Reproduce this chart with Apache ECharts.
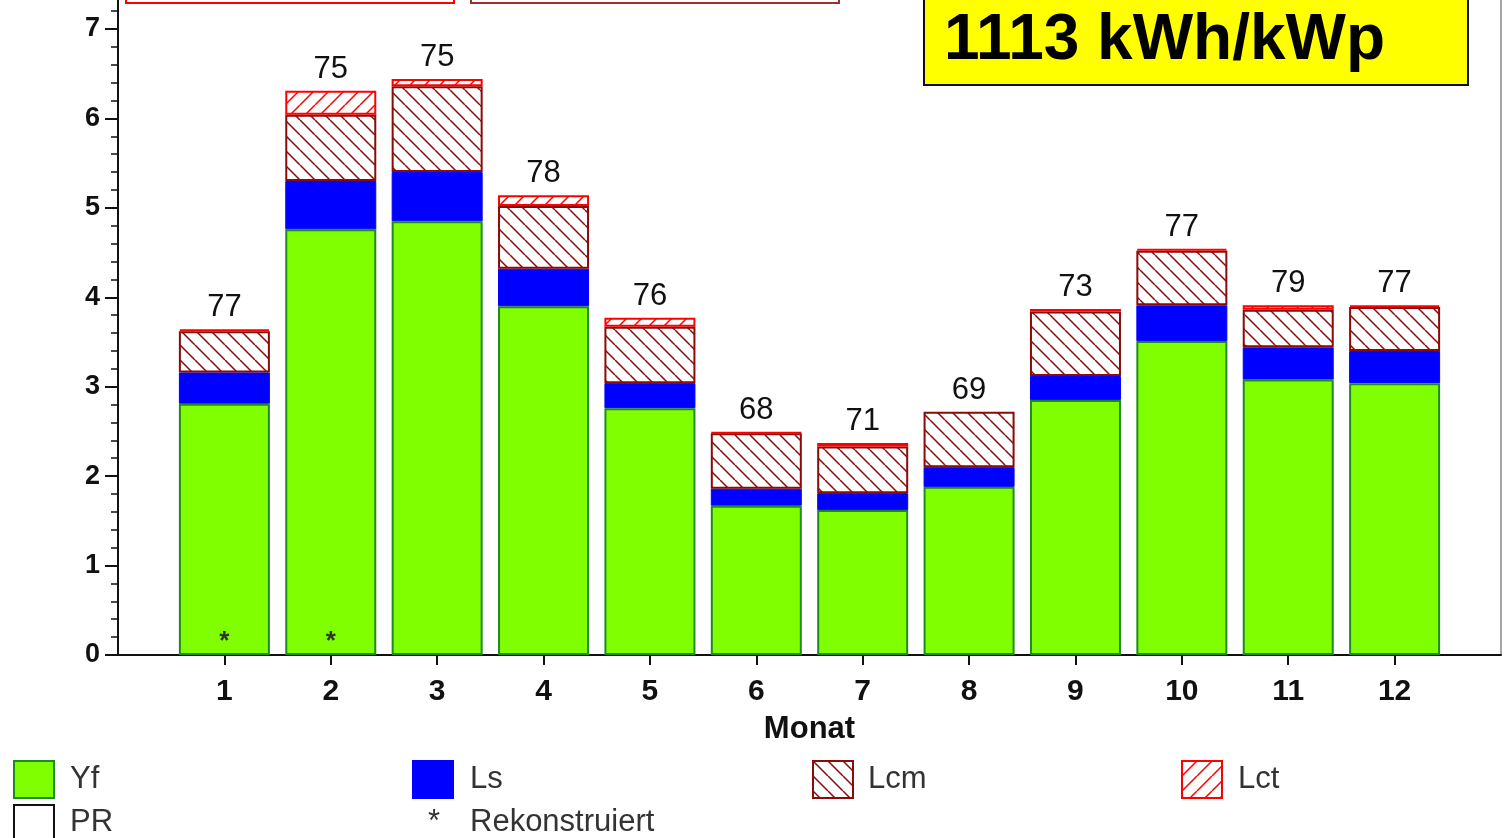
<!DOCTYPE html>
<html>
<head>
<meta charset="utf-8">
<script src="https://cdn.jsdelivr.net/npm/echarts@6/dist/echarts.min.js"></script>
<style>
  html, body { margin: 0; padding: 0; background: #fff; }
  #chart { width: 1504px; height: 838px; }
</style>
</head>
<body>
<div id="chart"></div>
<script>
// Monat 1..12
const months = ['1', '2', '3', '4', '5', '6', '7', '8', '9', '10', '11', '12']
const yf = [2.81, 4.76, 4.85, 3.90, 2.76, 1.67, 1.62, 1.88, 2.85, 3.51, 3.08, 3.04]
const ls = [0.35, 0.54, 0.55, 0.42, 0.28, 0.19, 0.19, 0.22, 0.27, 0.40, 0.36, 0.36]
const lcm = [0.46, 0.74, 0.96, 0.70, 0.63, 0.62, 0.52, 0.62, 0.72, 0.61, 0.42, 0.49]
const lct = [0.02, 0.27, 0.08, 0.12, 0.10, 0.01, 0.04, 0, 0.03, 0.02, 0.05, 0.02]
const pr = [77, 75, 75, 78, 76, 68, 71, 69, 73, 77, 79, 77]
const rekonstruiert = [1, 1, 0, 0, 0, 0, 0, 0, 0, 0, 0, 0]
const yTicks = [0, 1, 2, 3, 4, 5, 6, 7]

const FONT = '"Liberation Sans", Arial, sans-serif'
const GREEN = '#80ff00'
const BLUE = '#0000ff'
const DARKRED = '#8b0a0a'
const RED = '#ff0000'
const YMAX = 7.324

// the x axis runs from 0 to 13, one empty slot on each side of the months
const xCats = [''].concat(months, [''])

const yMinor = []
yTicks.forEach(m => {
  for (let k = 1; k <= 4; k++) {
    if (m + k * 0.2 < YMAX) yMinor.push(+(m + k * 0.2).toFixed(1))
  }
})

function hatch(color, back) {
  const s = 15
  const c = document.createElement('canvas')
  c.width = s
  c.height = s
  const ctx = c.getContext('2d')
  ctx.fillStyle = '#fff'
  ctx.fillRect(0, 0, s, s)
  ctx.strokeStyle = color
  ctx.lineWidth = 1.5
  ctx.beginPath()
  for (let k = -s; k <= 2 * s; k += s) {
    ctx.moveTo(0, k)
    ctx.lineTo(s, back ? k + s : k - s)
  }
  ctx.stroke()
  return { image: c, repeat: 'repeat' }
}

const lcmFill = hatch(DARKRED, true)
const lctFill = hatch(RED, false)

function padded(vals) {
  const items = vals.map(v => (v === 0 ? { value: 0, itemStyle: { borderWidth: 0 } } : v))
  return ['-'].concat(items, ['-'])
}

const chart = echarts.init(document.getElementById('chart'))

const legendRow1 = 778
const legendRow2 = 821
function swatch(x, y, fill, stroke) {
  return {
    type: 'rect', left: x, top: y - 18,
    shape: { width: 40, height: 37 },
    style: { fill: fill, stroke: stroke, lineWidth: 2 }
  }
}
function legendText(x, y, text) {
  return {
    type: 'text', left: x, top: y - 14,
    style: { text: text, font: '31px ' + FONT, fill: '#333' }
  }
}

chart.setOption({
  animation: false,
  grid: { left: 118, right: 1.5, top: 0, bottom: 183 },
  xAxis: {
    type: 'category',
    data: xCats,
    boundaryGap: false,
    name: 'Monat',
    nameLocation: 'middle',
    nameGap: 59,
    nameTextStyle: { fontFamily: FONT, fontSize: 31, fontWeight: 'bold', color: '#111' },
    splitLine: { show: false },
    axisLine: { lineStyle: { color: '#111', width: 2 } },
    axisTick: {
      interval: idx => idx > 0 && idx < xCats.length - 1,
      length: 10,
      lineStyle: { color: '#111', width: 2 }
    },
    axisLabel: {
      interval: 0,
      margin: 22,
      fontFamily: FONT,
      fontSize: 30,
      fontWeight: 'bold',
      color: '#111'
    }
  },
  yAxis: [
    {
      type: 'value',
      min: 0,
      max: YMAX,
      splitLine: { show: false },
      axisLine: { show: true, lineStyle: { color: '#111', width: 2 } },
      axisTick: { show: true, customValues: yTicks, length: 13, lineStyle: { color: '#111', width: 2 } },
      axisLabel: {
        customValues: yTicks,
        margin: 18,
        fontFamily: FONT,
        fontSize: 27,
        fontWeight: 'bold',
        color: '#111'
      }
    },
    {
      // minor ticks only
      type: 'value',
      position: 'left',
      min: 0,
      max: YMAX,
      splitLine: { show: false },
      axisLine: { show: false },
      axisLabel: { show: false },
      axisTick: { show: true, customValues: yMinor, length: 7, lineStyle: { color: '#111', width: 1.5 } }
    }
  ],
  series: [
    {
      name: 'Yf', type: 'bar', stack: 'y', barWidth: 91,
      data: padded(yf),
      itemStyle: { color: GREEN, borderColor: '#1f8a1f', borderWidth: 2 },
      label: {
        show: true,
        position: 'insideBottom',
        distance: 0,
        fontFamily: FONT,
        fontSize: 26,
        fontWeight: 'bold',
        color: '#333',
        formatter: p => (rekonstruiert[p.dataIndex - 1] ? '*' : '')
      }
    },
    {
      name: 'Ls', type: 'bar', stack: 'y', barWidth: 91,
      data: padded(ls),
      itemStyle: { color: BLUE, borderColor: BLUE, borderWidth: 1 }
    },
    {
      name: 'Lcm', type: 'bar', stack: 'y', barWidth: 91,
      data: padded(lcm),
      itemStyle: { color: lcmFill, borderColor: DARKRED, borderWidth: 2 }
    },
    {
      name: 'Lct', type: 'bar', stack: 'y', barWidth: 91,
      data: padded(lct),
      itemStyle: { color: lctFill, borderColor: RED, borderWidth: 2 },
      label: {
        show: true,
        position: 'top',
        distance: 6,
        fontFamily: FONT,
        fontSize: 31,
        color: '#111',
        formatter: p => String(pr[p.dataIndex - 1])
      }
    }
  ],
  graphic: [
    // boxes cut off at the top edge
    { type: 'rect', left: 125, top: -30, shape: { width: 328, height: 32 }, style: { fill: '#fff', stroke: RED, lineWidth: 2 } },
    { type: 'rect', left: 470, top: -30, shape: { width: 368, height: 32 }, style: { fill: '#fff', stroke: '#9b3030', lineWidth: 2 } },
    // right border line
    { type: 'line', shape: { x1: 1501, y1: 0, x2: 1501, y2: 655 }, style: { stroke: '#888', lineWidth: 1.5 } },
    // yield box
    { type: 'rect', left: 923, top: -20, shape: { width: 544, height: 104 }, style: { fill: '#ffff00', stroke: '#111', lineWidth: 2 } },
    { type: 'text', left: 944, top: 9, style: { text: '1113 kWh/kWp', font: 'bold 64px ' + FONT, fill: '#000' } },
    // legend
    swatch(13, legendRow1, GREEN, '#1f8a1f'),
    legendText(70, legendRow1, 'Yf'),
    swatch(412, legendRow1, BLUE, BLUE),
    legendText(470, legendRow1, 'Ls'),
    swatch(812, legendRow1, lcmFill, DARKRED),
    legendText(868, legendRow1, 'Lcm'),
    swatch(1181, legendRow1, lctFill, RED),
    legendText(1238, legendRow1, 'Lct'),
    swatch(13, legendRow2 + 1, '#fff', '#111'),
    legendText(70, legendRow2, 'PR'),
    legendText(428, legendRow2, '*'),
    legendText(470, legendRow2, 'Rekonstruiert')
  ]
})
</script>
</body>
</html>
